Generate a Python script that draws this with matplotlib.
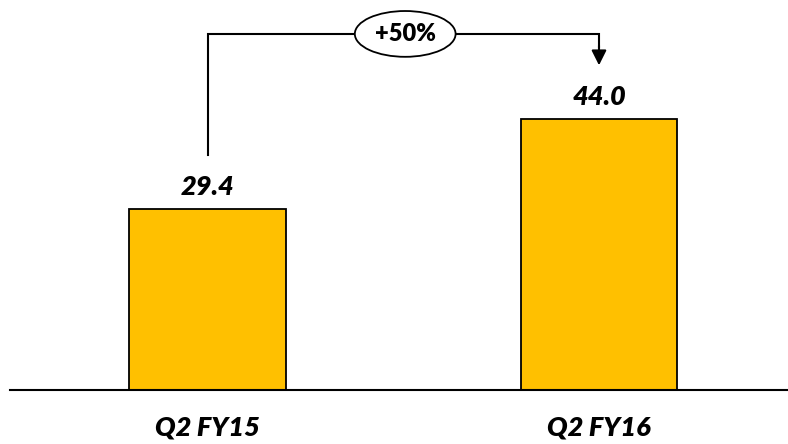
import matplotlib
matplotlib.use("Agg")
import matplotlib.pyplot as plt

categories = ["Q2 FY15", "Q2 FY16"]
values = [29.4, 44.0]
value_labels = ["29.4", "44.0"]
growth_label = "+50%"

W, H = 788, 444
fig = plt.figure(figsize=(W / 100, H / 100), dpi=100)
ax = fig.add_axes([0, 0, 1, 1])

px_per_unit_y = 6.15
base_px = 390  # from top
ax.set_ylim(-(H - base_px) / px_per_unit_y, base_px / px_per_unit_y)
px_per_unit_x = 391.5
c0 = 207.5
ax.set_xlim(-c0 / px_per_unit_x, (W - c0) / px_per_unit_x)

x = list(range(len(categories)))
ax.bar(x, values, width=0.40, color="#FFC000", edgecolor="black", linewidth=1.3, zorder=2)
ax.axhline(0, xmin=10 / W, xmax=1, color="black", linewidth=1.5, zorder=3)

font = dict(family=["Lato", "DejaVu Sans"], weight="heavy", style="italic")
for xi, v, lab in zip(x, values, value_labels):
    ax.annotate(lab, (xi, v), xytext=(0, 16), textcoords="offset points",
                ha="center", va="center", fontsize=19.5, color="black", **font)
for xi, lab in zip(x, categories):
    ax.annotate(lab, (xi, 0), xytext=(0, -27), textcoords="offset points",
                ha="center", va="center", fontsize=19.5, color="black", **font)

# growth connector
y_top = max(values) + 13.9
y_start = values[0] + 8.8
y_tip = values[1] + 8.8
ax.plot([x[0], x[0], x[1], x[1]], [y_start, y_top, y_top, y_tip + 3],
        color="black", linewidth=1.5, zorder=3, solid_joinstyle="miter")
ax.annotate("", xy=(x[1], y_tip), xytext=(x[1], y_tip + 3.2),
            arrowprops=dict(arrowstyle="-|>,head_length=0.9,head_width=0.45",
                            color="black", lw=1.5, shrinkA=0, shrinkB=0))
ax.text((x[0] + x[1]) / 2 + 0.005, y_top, growth_label, ha="center", va="center",
        fontsize=17, family=["Lato", "DejaVu Sans"], weight="heavy", zorder=4,
        bbox=dict(boxstyle="ellipse,pad=0.22", fc="white", ec="black", lw=1.3))

ax.axis("off")
fig.savefig("out.png", dpi=100)
